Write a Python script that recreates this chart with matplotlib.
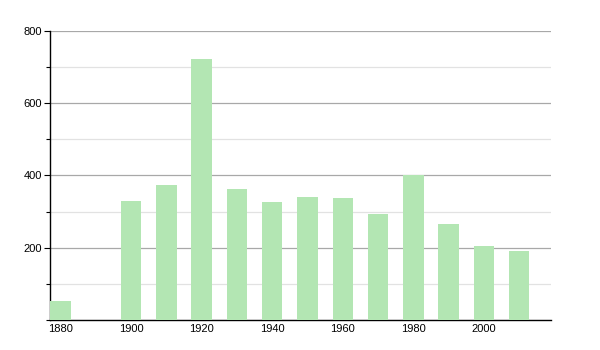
import numpy as np
import matplotlib.pyplot as plt
from matplotlib.ticker import MultipleLocator

plt.rcParams.update({
    "font.family": ["Liberation Sans", "DejaVu Sans"],
    "font.size": 8,
})

years = [1880, 1900, 1910, 1920, 1930, 1940, 1950, 1960, 1970, 1980, 1990, 2000, 2010]
population = [53, 329, 374, 721, 362, 327, 340, 338, 293, 400, 267, 205, 192]
xtick_years = [1880, 1900, 1920, 1940, 1960, 1980, 2000]
ytick_values = [200, 400, 600, 800]

fig = plt.figure(figsize=(6, 3.5), dpi=100)
ax = fig.add_axes([0.0833, 0.0857, 0.835, 0.826])

ax.bar(years, population, width=5.8, color="#b3e6b3", linewidth=0, zorder=3)

ax.set_xlim(1877, 2019)
ax.set_ylim(0, 800)
ax.set_xticks(xtick_years)
ax.set_yticks(ytick_values)
ax.yaxis.set_minor_locator(MultipleLocator(100))

ax.grid(axis="y", which="major", color="#a8a8a8", lw=0.9, zorder=0)
ax.grid(axis="y", which="minor", color="#e2e2e2", lw=0.9, zorder=0)

for side in ("top", "right"):
    ax.spines[side].set_visible(False)
ax.spines["left"].set_color("black")
ax.spines["bottom"].set_color("black")
ax.spines["left"].set_linewidth(1.0)
ax.spines["bottom"].set_linewidth(1.0)

ax.tick_params(axis="x", length=0, pad=3, labelsize=8)
ax.tick_params(axis="y", which="major", length=4, width=0.8, pad=2, labelsize=8)
ax.tick_params(axis="y", which="minor", length=3, width=0.8)

fig.savefig("out.png", dpi=100)
